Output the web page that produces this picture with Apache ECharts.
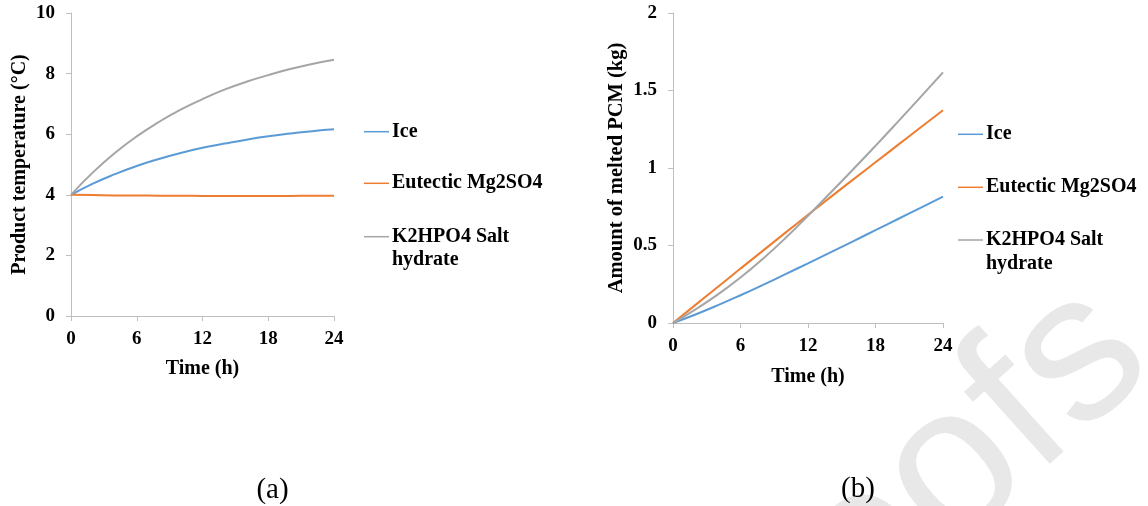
<!DOCTYPE html>
<html>
<head>
<meta charset="utf-8">
<title>PCM performance</title>
<script src="https://cdn.jsdelivr.net/npm/echarts@6/dist/echarts.min.js"></script>
<style>
  html, body { margin: 0; padding: 0; background: #ffffff; }
  #chart { width: 1148px; height: 506px; }
</style>
</head>
<body>
<div id="chart"></div>
<script>
// Time axis (hours) shared by both panels
const hours = [0, 2, 4, 6, 8, 10, 12, 14, 16, 18, 20, 22, 24];
const timeTicks = [0, 6, 12, 18, 24];

// Series names and their legend labels
const seriesNames = ['Ice', 'Eutectic Mg2SO4', 'K2HPO4 Salt hydrate'];
const legendLabels = ['Ice', 'Eutectic Mg2SO4', 'K2HPO4 Salt\nhydrate'];
const seriesColors = ['#5b9bd5', '#ed7d31', '#a5a5a5'];

// (a) Product temperature (°C)
const tempIce      = [4.00, 4.37, 4.68, 4.95, 5.18, 5.38, 5.55, 5.69, 5.82, 5.93, 6.02, 6.10, 6.16];
const tempEutectic = [4.00, 3.99, 3.98, 3.98, 3.97, 3.97, 3.96, 3.96, 3.96, 3.96, 3.96, 3.97, 3.97];
const tempK2HPO4   = [4.00, 4.74, 5.38, 5.93, 6.40, 6.81, 7.16, 7.47, 7.73, 7.95, 8.15, 8.32, 8.46];
const tempTicks = [0, 2, 4, 6, 8, 10];

// (b) Amount of melted PCM (kg)
const meltIce      = [0, 0.055, 0.115, 0.179, 0.246, 0.315, 0.385, 0.456, 0.527, 0.599, 0.671, 0.743, 0.816];
const meltEutectic = [0, 0.117, 0.234, 0.351, 0.467, 0.583, 0.698, 0.812, 0.925, 1.037, 1.149, 1.261, 1.373];
const meltK2HPO4   = [0, 0.088, 0.185, 0.293, 0.415, 0.548, 0.692, 0.840, 0.990, 1.143, 1.299, 1.457, 1.617];
const meltTicks = [0, 0.5, 1, 1.5, 2];

const panelCaptions = ['(a)', '(b)'];
const axisTitles = {
  time: 'Time (h)',
  temp: 'Product temperature (°C)',
  melt: 'Amount of melted PCM (kg)'
};

const SERIF = "'Liberation Serif', 'Times New Roman', serif";
const AXIS_GREY = '#bfbfbf';

function pairs(ys) { return hours.map((h, i) => [h, ys[i]]); }

function xAxisFor(gridIndex, gap) {
  return {
    type: 'value', gridIndex,
    min: timeTicks[0], max: timeTicks[timeTicks.length - 1],
    interval: timeTicks[1] - timeTicks[0],
    name: axisTitles.time, nameLocation: 'middle', nameGap: gap,
    nameTextStyle: { fontFamily: SERIF, fontWeight: 'bold', fontSize: 20, color: '#000' },
    axisLine: { show: true, lineStyle: { color: AXIS_GREY, width: 1 } },
    axisTick: { show: true, length: 5, lineStyle: { color: AXIS_GREY } },
    axisLabel: { fontFamily: SERIF, fontWeight: 'bold', fontSize: 19, color: '#000', margin: 14 },
    splitLine: { show: false }
  };
}

function yAxisFor(gridIndex, ticks, title, gap, titleSize) {
  return {
    type: 'value', gridIndex,
    min: ticks[0], max: ticks[ticks.length - 1],
    interval: ticks[1] - ticks[0],
    name: title, nameLocation: 'middle', nameGap: gap, nameRotate: 90,
    nameTextStyle: { fontFamily: SERIF, fontWeight: 'bold', fontSize: titleSize, color: '#000' },
    axisLine: { show: true, lineStyle: { color: AXIS_GREY, width: 1 } },
    axisTick: { show: true, length: 5, lineStyle: { color: AXIS_GREY } },
    axisLabel: { fontFamily: SERIF, fontWeight: 'bold', fontSize: 19, color: '#000', margin: 16 },
    splitLine: { show: false }
  };
}

function lineSeries(name, data, idx, axisIdx) {
  return {
    type: 'line', name, data: pairs(data),
    xAxisIndex: axisIdx, yAxisIndex: axisIdx,
    smooth: true, symbol: 'none',
    lineStyle: { color: seriesColors[idx], width: 2 },
    itemStyle: { color: seriesColors[idx] },
    z: 3
  };
}

// Legend drawn next to each panel: short coloured line followed by the name
function legendGraphics(x0, ys) {
  const els = [];
  legendLabels.forEach((label, i) => {
    els.push({
      type: 'line',
      shape: { x1: x0, y1: ys[i], x2: x0 + 25, y2: ys[i] },
      style: { stroke: seriesColors[i], lineWidth: 1.5 }
    });
    els.push({
      type: 'text',
      x: x0 + 28, y: ys[i] - 11.7,
      style: {
        text: label, fill: '#000',
        font: 'bold 20px ' + SERIF,
        lineHeight: 23.4,
        textAlign: 'left', textVerticalAlign: 'top',
        align: 'left', verticalAlign: 'top'
      }
    });
  });
  return els;
}

const chart = echarts.init(document.getElementById('chart'), null, { renderer: 'canvas' });

chart.setOption({
  backgroundColor: '#ffffff',
  animation: false,
  grid: [
    { left: 71, top: 13, width: 263, height: 303, containLabel: false },
    { left: 673, top: 13, width: 270, height: 310, containLabel: false }
  ],
  xAxis: [xAxisFor(0, 43), xAxisFor(1, 44)],
  yAxis: [
    yAxisFor(0, tempTicks, axisTitles.temp, 41, 20),
    yAxisFor(1, meltTicks, axisTitles.melt, 46, 20.5)
  ],
  series: [
    lineSeries(seriesNames[0], tempIce, 0, 0),
    lineSeries(seriesNames[1], tempEutectic, 1, 0),
    lineSeries(seriesNames[2], tempK2HPO4, 2, 0),
    lineSeries(seriesNames[0], meltIce, 0, 1),
    lineSeries(seriesNames[1], meltEutectic, 1, 1),
    lineSeries(seriesNames[2], meltK2HPO4, 2, 1)
  ],
  graphic: [
    // faint "Proofs" stamp in the lower right corner
    {
      type: 'text', z: 0, silent: true,
      x: 1189, y: 402, rotation: 42 * Math.PI / 180,
      style: {
        text: 'Proofs', fill: '#e8e8e8',
        font: '210px "Liberation Sans", Arial, sans-serif',
        textAlign: 'right', textVerticalAlign: 'bottom',
        align: 'right', verticalAlign: 'bottom'
      }
    },
    ...legendGraphics(364, [131.7, 183.3, 236.7]),
    ...legendGraphics(958, [134.3, 187.3, 240.0]),
    {
      type: 'text', x: 272.5, y: 490,
      style: {
        text: panelCaptions[0], fill: '#000', font: '29px ' + SERIF,
        textAlign: 'center', textVerticalAlign: 'middle', align: 'center', verticalAlign: 'middle'
      }
    },
    {
      type: 'text', x: 858, y: 489,
      style: {
        text: panelCaptions[1], fill: '#000', font: '29px ' + SERIF,
        textAlign: 'center', textVerticalAlign: 'middle', align: 'center', verticalAlign: 'middle'
      }
    }
  ]
});
</script>
</body>
</html>
